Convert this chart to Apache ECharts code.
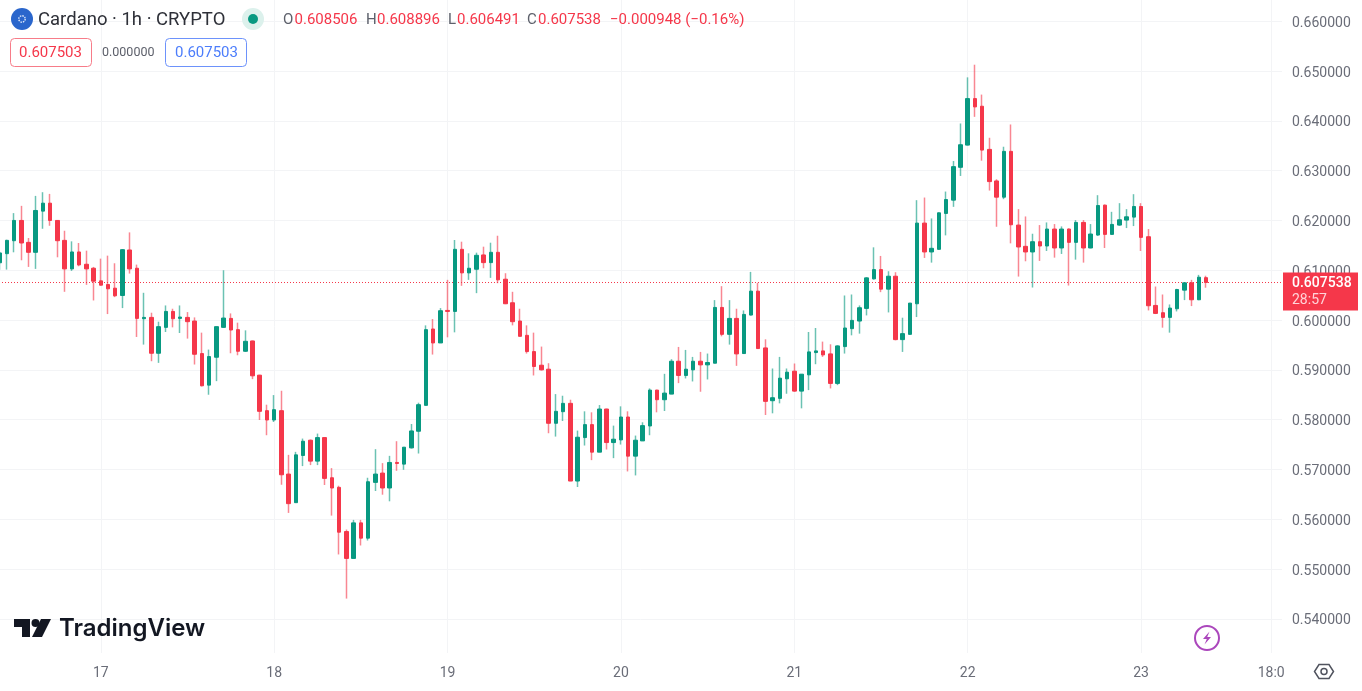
<!DOCTYPE html>
<html>
<head>
<meta charset="utf-8">
<title>Cardano 1h</title>
<script src="https://cdn.jsdelivr.net/npm/echarts@6/dist/echarts.min.js"></script>
<style>
  html, body { margin: 0; padding: 0; background: #ffffff; }
  #main_1 { width: 1362px; height: 691px; }
</style>
</head>
<body>
<div id="main_1"></div>
<script>
const opens = [
  0.6115, 0.61333, 0.61593, 0.62, 0.6156, 0.6136, 0.62187, 0.62347, 0.62, 0.616,
  0.61027, 0.61367, 0.6112, 0.6104, 0.60787, 0.60713, 0.6064, 0.60493, 0.61407, 0.6104,
  0.60027, 0.60053, 0.59333, 0.59853, 0.60173, 0.60033, 0.60053, 0.5998, 0.59327, 0.58693,
  0.59253, 0.59853, 0.60033, 0.59807, 0.59373, 0.5958, 0.58893, 0.5818, 0.57993, 0.5818,
  0.56907, 0.56333, 0.5728, 0.57587, 0.57167, 0.5764, 0.56833, 0.5664, 0.55753, 0.55213,
  0.55927, 0.5562, 0.5674, 0.56927, 0.56627, 0.5714, 0.57107, 0.57433, 0.57767, 0.58287,
  0.5982, 0.5954, 0.60193, 0.60173, 0.6142, 0.60947, 0.6102, 0.61307, 0.61153, 0.6136,
  0.6082, 0.60347, 0.5998, 0.59693, 0.59367, 0.59093, 0.59013, 0.57927, 0.5816, 0.58327,
  0.56767, 0.5764, 0.579, 0.57347, 0.58213, 0.5754, 0.57593, 0.58053, 0.57267, 0.57573,
  0.57873, 0.58593, 0.584, 0.58513, 0.59173, 0.58887, 0.59, 0.59173, 0.591, 0.59133,
  0.60253, 0.59713, 0.60033, 0.59327, 0.601, 0.6058, 0.5944, 0.5838, 0.58427, 0.5882,
  0.58973, 0.58573, 0.589, 0.59347, 0.5938, 0.5932, 0.58727, 0.59467, 0.59827, 0.5998,
  0.60233, 0.60827, 0.61013, 0.6062, 0.6088, 0.59607, 0.59713, 0.60327, 0.61947, 0.61367,
  0.6142, 0.6214, 0.62407, 0.63067, 0.63513, 0.64447, 0.64293, 0.63427, 0.62793, 0.62467,
  0.63387, 0.61907, 0.6148, 0.61367, 0.61573, 0.61487, 0.61827, 0.61447, 0.61827, 0.6156,
  0.6196, 0.61447, 0.61707, 0.62307, 0.6172, 0.61907, 0.62007, 0.62067, 0.6228, 0.61673,
  0.60293, 0.60147, 0.60053, 0.60227, 0.606, 0.60747, 0.60407, 0.608506
];
const highs = [
  0.6137, 0.61613, 0.62147, 0.62293, 0.61647, 0.62493, 0.62567, 0.62533, 0.62003, 0.61793,
  0.6158, 0.61547, 0.61393, 0.61067, 0.61233, 0.61293, 0.6114, 0.61427, 0.6176, 0.61113,
  0.60547, 0.60147, 0.59967, 0.60293, 0.60227, 0.60293, 0.6016, 0.60053, 0.59747, 0.59407,
  0.59867, 0.61, 0.60133, 0.59947, 0.59793, 0.59587, 0.589, 0.583, 0.58493, 0.5858,
  0.57293, 0.57353, 0.5762, 0.576, 0.5772, 0.5764, 0.57027, 0.56673, 0.55793, 0.55987,
  0.55987, 0.56833, 0.57407, 0.57127, 0.57273, 0.57567, 0.57447, 0.57913, 0.5834, 0.59893,
  0.6002, 0.6024, 0.60807, 0.61607, 0.61573, 0.6134, 0.61353, 0.61473, 0.61553, 0.61693,
  0.6094, 0.60567, 0.60227, 0.59893, 0.59747, 0.59467, 0.59133, 0.58513, 0.5848, 0.584,
  0.5778, 0.58167, 0.58147, 0.58293, 0.5822, 0.5788, 0.58267, 0.58167, 0.5768, 0.57947,
  0.58627, 0.586, 0.5892, 0.59213, 0.5946, 0.594, 0.5926, 0.5936, 0.59327, 0.604,
  0.6068, 0.604, 0.60227, 0.60193, 0.60967, 0.60747, 0.59613, 0.59027, 0.5926, 0.59027,
  0.59127, 0.58913, 0.5976, 0.5984, 0.59567, 0.59513, 0.59493, 0.60493, 0.60513, 0.60293,
  0.6086, 0.6146, 0.61287, 0.6098, 0.6096, 0.60047, 0.6034, 0.62407, 0.6246, 0.6204,
  0.6216, 0.6258, 0.63193, 0.63947, 0.64873, 0.65127, 0.64527, 0.6366, 0.62827, 0.6348,
  0.63927, 0.62227, 0.6208, 0.61733, 0.61907, 0.6196, 0.61927, 0.6188, 0.6184, 0.62007,
  0.62007, 0.61927, 0.62507, 0.6232, 0.62173, 0.62347, 0.62227, 0.62527, 0.62347, 0.61827,
  0.60673, 0.60513, 0.60313, 0.60627, 0.6076, 0.60807, 0.60907, 0.608896
];
const lows = [
  0.6101, 0.61013, 0.6136, 0.612, 0.61067, 0.61027, 0.61833, 0.61893, 0.6126, 0.60567,
  0.60987, 0.6108, 0.60707, 0.60393, 0.60693, 0.6012, 0.6046, 0.6024, 0.60933, 0.5966,
  0.59507, 0.59173, 0.5914, 0.5976, 0.59853, 0.5974, 0.59627, 0.59107, 0.58667, 0.585,
  0.58773, 0.59847, 0.59333, 0.59293, 0.5936, 0.58813, 0.57993, 0.57687, 0.57953, 0.56693,
  0.56127, 0.56327, 0.57067, 0.57087, 0.57087, 0.56687, 0.56073, 0.55293, 0.54407, 0.55213,
  0.55473, 0.55573, 0.56567, 0.56493, 0.5636, 0.56973, 0.56993, 0.5742, 0.5732, 0.58287,
  0.59307, 0.5954, 0.59653, 0.59753, 0.60687, 0.60807, 0.6054, 0.6104, 0.60847, 0.6074,
  0.6032, 0.59893, 0.59673, 0.59327, 0.58887, 0.58987, 0.57727, 0.5766, 0.57973, 0.56767,
  0.56647, 0.5748, 0.57187, 0.57347, 0.574, 0.57227, 0.575, 0.5696, 0.5688, 0.57573,
  0.57687, 0.58147, 0.58173, 0.58513, 0.58733, 0.58827, 0.58767, 0.5856, 0.58807, 0.59133,
  0.59673, 0.59507, 0.5908, 0.5932, 0.60093, 0.59427, 0.58093, 0.58127, 0.58327, 0.5852,
  0.5856, 0.58227, 0.58593, 0.59113, 0.5926, 0.58627, 0.58693, 0.59327, 0.59693, 0.59727,
  0.60093, 0.60813, 0.6056, 0.60153, 0.59593, 0.5936, 0.59707, 0.6006, 0.61247, 0.61153,
  0.61413, 0.617, 0.62273, 0.62893, 0.63507, 0.6408, 0.632, 0.626, 0.61873, 0.62427,
  0.6154, 0.60873, 0.6118, 0.60653, 0.61187, 0.61387, 0.61253, 0.61327, 0.60693, 0.61213,
  0.61153, 0.6144, 0.6169, 0.61447, 0.61713, 0.61893, 0.61847, 0.61887, 0.61387, 0.60193,
  0.6012, 0.59847, 0.59747, 0.60173, 0.604, 0.6028, 0.604, 0.606491
];
const closes = [
  0.61347, 0.616, 0.62, 0.61547, 0.6136, 0.622, 0.62347, 0.62, 0.61593, 0.61027,
  0.61367, 0.61107, 0.61027, 0.6078, 0.607, 0.60627, 0.60487, 0.61413, 0.61027, 0.60033,
  0.60053, 0.59333, 0.59867, 0.60173, 0.60027, 0.6006, 0.59967, 0.59313, 0.5868, 0.59267,
  0.59867, 0.6004, 0.598, 0.59373, 0.59573, 0.5888, 0.58167, 0.57993, 0.582, 0.56893,
  0.56313, 0.57293, 0.57567, 0.57167, 0.5764, 0.5682, 0.56627, 0.5574, 0.55213, 0.55927,
  0.5562, 0.56753, 0.56907, 0.56627, 0.5714, 0.5712, 0.57447, 0.57773, 0.583, 0.59807,
  0.5954, 0.60187, 0.60173, 0.6142, 0.60947, 0.6104, 0.613, 0.61153, 0.6136, 0.60807,
  0.60327, 0.59967, 0.59673, 0.59367, 0.59067, 0.59, 0.57927, 0.58167, 0.58327, 0.56767,
  0.57647, 0.579, 0.57347, 0.58213, 0.5754, 0.57607, 0.58053, 0.57267, 0.57587, 0.5788,
  0.58593, 0.584, 0.58533, 0.59173, 0.58887, 0.59013, 0.59173, 0.591, 0.59147, 0.60253,
  0.59713, 0.60033, 0.5932, 0.60113, 0.6058, 0.59427, 0.58367, 0.5844, 0.58833, 0.58953,
  0.58573, 0.58913, 0.5936, 0.5938, 0.593, 0.58727, 0.5948, 0.5984, 0.59993, 0.60247,
  0.60847, 0.61013, 0.6062, 0.6088, 0.59607, 0.59727, 0.6034, 0.61947, 0.61367, 0.6144,
  0.62153, 0.6242, 0.6308, 0.6352, 0.64447, 0.6428, 0.63413, 0.6278, 0.62467, 0.63387,
  0.61913, 0.61467, 0.61367, 0.61573, 0.61487, 0.61827, 0.61447, 0.61827, 0.6156, 0.6196,
  0.61447, 0.61727, 0.623, 0.6172, 0.6192, 0.62013, 0.62073, 0.6228, 0.6166, 0.60287,
  0.60133, 0.60053, 0.6024, 0.60613, 0.60747, 0.60407, 0.6086, 0.607538
];

const priceTicksMin = 0.53;
const priceTicksMax = 0.67;
const lastPrice = 0.607538;
const countdown = "28:57";
// text under the time axis, by category
const tickLabels = {
  "17 00:00": "17", "18 00:00": "18", "19 00:00": "19", "20 00:00": "20",
  "21 00:00": "21", "22 00:00": "22", "23 00:00": "23", "23 18:00": "18:0"
};

const up = "#089981";
const down = "#f5374a";
const gridColor = "#f3f4f6";
const axisText = "#6a6d78";
const fontFamily = "Roboto, 'Liberation Sans', sans-serif";

// 14 hours of day 16, 6 whole days, then 20 hours of day 23 (some still empty)
const categories = [];
for (let i = 0; i < 178; i++) {
  const h = i + 10;
  const day = 16 + Math.floor(h / 24);
  const hour = h % 24;
  categories.push(day + " " + String(hour).padStart(2, "0") + ":00");
}

const wickData = opens.map((o, i) => [o, closes[i], lows[i], highs[i]]);
const bodyData = opens.map((o, i) => [o, closes[i], Math.min(o, closes[i]), Math.max(o, closes[i])]);

// chart spans one band per hour, 7.225px each; it starts just off the left edge
const plotLeft = -4;
const plotWidth = 1286;

function text(x, y, str, fill, size, extra) {
  return {
    type: "text", x: x, y: y, z: 100,
    style: Object.assign({ text: str, fill: fill, fontSize: size, fontFamily: fontFamily, textVerticalAlign: "middle" }, extra || {})
  };
}
function box(x, y, w, h, stroke) {
  return {
    type: "rect", z: 100,
    shape: { x: x, y: y, width: w, height: h, r: 4 },
    style: { fill: "#ffffff", stroke: stroke, lineWidth: 1 }
  };
}

const chartDom = document.getElementById("main_1");
const myChart = echarts.init(chartDom);

const option = {
  animation: false,
  backgroundColor: "#ffffff",
  grid: [
    // price scale runs past the window so that min and max stay on whole ticks
    { left: plotLeft, width: plotWidth, top: -28.56, height: 697.2, outerBoundsMode: "none" },
    { left: plotLeft, width: plotWidth, top: 0, height: 653, outerBoundsMode: "none" }
  ],
  xAxis: [
    { type: "category", data: categories, gridIndex: 0, show: false },
    {
      type: "category", data: categories, gridIndex: 1,
      axisLine: { show: false },
      axisTick: { show: false },
      splitLine: {
        show: true, alignWithLabel: true,
        interval: (i, v) => v in tickLabels,
        lineStyle: { color: gridColor, width: 1 }
      },
      axisLabel: {
        interval: (i, v) => v in tickLabels,
        formatter: (v) => tickLabels[v] || "",
        color: axisText, fontSize: 14, fontFamily: fontFamily, margin: 13
      }
    }
  ],
  yAxis: [
    {
      type: "value", gridIndex: 0, position: "right",
      min: priceTicksMin, max: priceTicksMax, interval: 0.01,
      axisLine: { show: false },
      axisTick: { show: false },
      splitLine: { show: true, showMinLine: false, showMaxLine: false, lineStyle: { color: gridColor, width: 1 } },
      axisLabel: {
        showMinLabel: false, showMaxLabel: false,
        formatter: (v) => v.toFixed(6),
        verticalAlign: "top", lineHeight: 4,
        color: axisText, fontSize: 14, fontFamily: fontFamily, margin: 10
      }
    },
    { type: "value", gridIndex: 1, show: false, splitLine: { show: false } }
  ],
  series: [
    {
      name: "wicks", type: "candlestick", xAxisIndex: 0, yAxisIndex: 0,
      data: wickData, barWidth: 1, z: 3,
      itemStyle: {
        color: "rgba(8,153,129,0.6)", color0: "rgba(245,55,74,0.6)",
        borderColor: "rgba(8,153,129,0.6)", borderColor0: "rgba(245,55,74,0.6)",
        borderWidth: 1.5
      },
      markLine: {
        silent: true, symbol: "none", z: 2, precision: 6,
        label: { show: false },
        data: [{ yAxis: lastPrice, lineStyle: { color: "#f5374a", type: [1, 2], width: 1, opacity: 1 } }]
      }
    },
    {
      name: "bodies", type: "candlestick", xAxisIndex: 0, yAxisIndex: 0,
      data: bodyData, barWidth: 4, z: 4,
      itemStyle: { color: up, color0: down, borderColor: up, borderColor0: down, borderWidth: 1 }
    }
  ]
};
myChart.setOption(option);

// header, logos and the price tag sit on top of the chart
const tagTop = myChart.convertToPixel({ yAxisIndex: 0 }, lastPrice) - 10;
myChart.setOption({
  graphic: [
    { type: "circle", z: 100, shape: { cx: 22, cy: 19, r: 11 }, style: { fill: "#2a66cc" } },
    { type: "circle", z: 101, shape: { cx: 22, cy: 19, r: 3.2 }, style: { fill: "none", stroke: "#dbe6fa", lineWidth: 1.4, lineDash: [1.5, 1] } },
    text(38, 20, "Cardano · 1h · CRYPTO", "#2e3038", 18.5),
    { type: "circle", z: 100, shape: { cx: 253, cy: 19, r: 11 }, style: { fill: "#dcf1ec" } },
    { type: "circle", z: 101, shape: { cx: 253, cy: 19, r: 5 }, style: { fill: up } },

    text(283, 20, "O", "#5d606b", 15),
    text(294.5, 20, "0.608506", down, 15),
    text(366, 20, "H", "#5d606b", 15),
    text(377, 20, "0.608896", down, 15),
    text(448, 20, "L", "#5d606b", 15),
    text(457, 20, "0.606491", down, 15),
    text(527, 20, "C", "#5d606b", 15),
    text(538, 20, "0.607538", down, 15),
    text(610, 20, "−0.000948 (−0.16%)", down, 15),

    box(10.5, 38.5, 81, 28, "#f77c89"),
    text(19, 53, "0.607503", down, 15),
    text(102, 53, "0.000000", "#5d606b", 12.5),
    box(165.5, 38.5, 81, 28, "#6d92fb"),
    text(175, 53, "0.607503", "#4c7dfb", 15),

    { type: "rect", z: 100, shape: { x: 1283, y: tagTop, width: 75, height: 38 }, style: { fill: down } },
    text(1292, tagTop + 11, lastPrice.toFixed(6), "#ffffff", 14, { fontWeight: 500 }),
    text(1292, tagTop + 28, countdown, "#ffd3d8", 14),

    { type: "polygon", z: 100, shape: { points: [[14, 619], [30, 619], [30, 637], [22, 637], [22, 627], [14, 627]] }, style: { fill: "#131722" } },
    { type: "circle", z: 100, shape: { cx: 35.5, cy: 623, r: 4 }, style: { fill: "#131722" } },
    { type: "polygon", z: 100, shape: { points: [[41, 619], [51, 619], [42, 637], [32, 637]] }, style: { fill: "#131722" } },
    text(59, 629, "TradingView", "#131722", 24, { fontFamily: "Inter, Roboto, sans-serif", fontWeight: 600 }),

    { type: "circle", z: 100, shape: { cx: 1207, cy: 638, r: 12 }, style: { fill: "#ffffff", stroke: "#ab47bc", lineWidth: 2 } },
    { type: "polygon", z: 101, shape: { points: [[1209.5, 631.5], [1203, 639], [1206.8, 639], [1204.5, 644.5], [1211, 637], [1207.2, 637]] }, style: { fill: "#ab47bc" } },

    { type: "polygon", z: 100, shape: { points: [[1319, 664.5], [1329, 664.5], [1333.5, 671.5], [1329, 678.5], [1319, 678.5], [1314.5, 671.5]] }, style: { fill: "none", stroke: "#50535e", lineWidth: 1.5 } },
    { type: "circle", z: 100, shape: { cx: 1324, cy: 671.5, r: 3 }, style: { fill: "none", stroke: "#50535e", lineWidth: 1.5 } }
  ]
});
</script>
</body>
</html>
